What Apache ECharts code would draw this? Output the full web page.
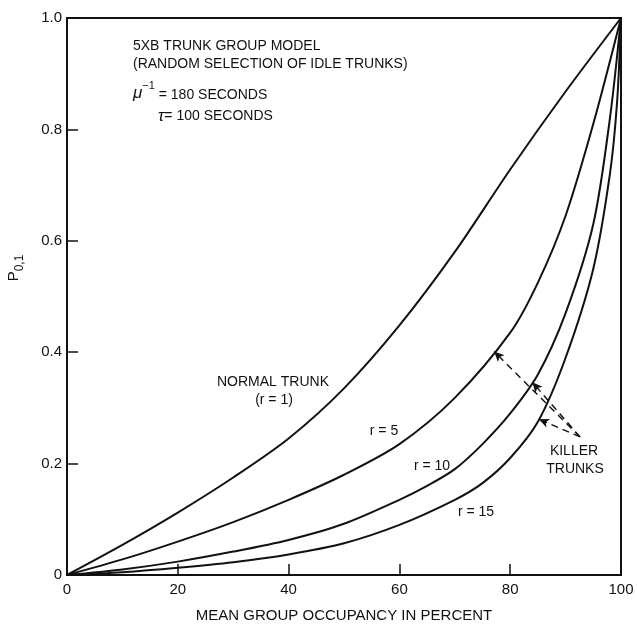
<!DOCTYPE html>
<html>
<head>
<meta charset="utf-8">
<script src="https://cdn.jsdelivr.net/npm/echarts@6/dist/echarts.min.js"></script>
<style>html,body{margin:0;padding:0;background:#fff}#c{width:637px;height:628px}</style>
</head>
<body>
<div id="c"></div>
<script>
// ---- data ----
const xTicks = [0, 20, 40, 60, 80, 100];
const yTickLabels = ['0', '0.2', '0.4', '0.6', '0.8', '1.0'];

const xNormal = [0, 10, 20, 30, 40, 50, 60, 70, 80, 90, 100];
const yNormal = [0, 0.054, 0.112, 0.175, 0.245, 0.335, 0.448, 0.58, 0.728, 0.868, 1];

const xR5 = [0, 10, 20, 30, 40, 50, 60, 70, 80, 85, 90, 95, 100];
const yR5 = [0, 0.028, 0.06, 0.095, 0.135, 0.18, 0.235, 0.318, 0.435, 0.525, 0.645, 0.81, 1];

const xR10 = [0, 10, 20, 30, 40, 50, 60, 65, 70, 75, 80, 85, 90, 95, 98, 100];
const yR10 = [0, 0.01, 0.024, 0.042, 0.063, 0.092, 0.135, 0.16, 0.19, 0.235, 0.29, 0.36, 0.47, 0.63, 0.82, 1];

const xR15 = [0, 10, 20, 30, 40, 50, 60, 70, 75, 80, 85, 90, 95, 98, 99.3, 100];
const yR15 = [0, 0.005, 0.013, 0.023, 0.037, 0.057, 0.09, 0.135, 0.165, 0.21, 0.275, 0.39, 0.55, 0.72, 0.85, 1];

// killer-trunk arrows: common start point and the x positions of the tips on r=5, r=10, r=15
const arrowStart = [92.6, 0.248];
const arrowTipX = [77.1, 84.0, 85.2];

// ---- chart ----
const FONT = "'Liberation Sans', Arial, Helvetica, sans-serif";
const INK = '#111';
const pairs = (xs, ys) => xs.map((x, i) => [x, ys[i]]);
const interp = (xs, ys, x) => {
  for (let i = 1; i < xs.length; i++) {
    if (x <= xs[i]) { const t = (x - xs[i - 1]) / (xs[i] - xs[i - 1]); return ys[i - 1] + t * (ys[i] - ys[i - 1]); }
  }
  return ys[ys.length - 1];
};
const tipCurves = [[xR5, yR5], [xR10, yR10], [xR15, yR15]];
const arrowTips = arrowTipX.map((x, i) => [x, interp(tipCurves[i][0], tipCurves[i][1], x)]);

const curve = (name, xs, ys, extra) => Object.assign({
  name, type: 'line', data: pairs(xs, ys), symbol: 'none',
  smooth: 0.3, silent: true,
  lineStyle: { color: INK, width: 2 }
}, extra || {});

const chart = echarts.init(document.getElementById('c'), null, { renderer: 'canvas' });

chart.setOption({
  animation: false,
  backgroundColor: '#fff',
  grid: { left: 67, right: 16, top: 18, bottom: 49, show: true, borderColor: INK, borderWidth: 2, backgroundColor: 'transparent' },
  xAxis: {
    type: 'value', min: 0, max: 100, interval: 20,
    axisLine: { show: true, lineStyle: { color: INK, width: 2 } },
    axisTick: { show: true, inside: true, length: 11, lineStyle: { color: INK, width: 1.5 } },
    splitLine: { show: false },
    axisLabel: { color: INK, fontSize: 15, fontFamily: FONT, margin: 7,
      formatter: v => String(xTicks[xTicks.indexOf(v)]) },
    name: 'MEAN GROUP OCCUPANCY IN PERCENT', nameLocation: 'middle', nameGap: 33,
    nameTextStyle: { color: INK, fontSize: 15, fontFamily: FONT }
  },
  yAxis: {
    type: 'value', min: 0, max: 1, interval: 0.2,
    axisLine: { show: true, lineStyle: { color: INK, width: 2 } },
    axisTick: { show: true, inside: true, length: 11, lineStyle: { color: INK, width: 1.5 } },
    splitLine: { show: false },
    axisLabel: { color: INK, fontSize: 15, fontFamily: FONT, margin: 5,
      formatter: v => yTickLabels[Math.round(v * 5)] }
  },
  series: [
    curve('Normal trunk (r = 1)', xNormal, yNormal),
    curve('r = 5', xR5, yR5),
    curve('r = 10', xR10, yR10),
    curve('r = 15', xR15, yR15, {
      markLine: {
        silent: true, symbol: ['none', 'arrow'], symbolSize: [7, 10],
        label: { show: false },
        lineStyle: { color: INK, width: 1.4, type: [7, 5] },
        data: arrowTips.map(t => [{ coord: arrowStart }, { coord: t }])
      }
    })
  ],
  graphic: [
    { type: 'text', left: 133, top: 39, style: { text: '5XB TRUNK GROUP MODEL', font: '14px ' + FONT, fill: INK } },
    { type: 'text', left: 133, top: 57, style: { text: '(RANDOM SELECTION OF IDLE TRUNKS)', font: '14px ' + FONT, fill: INK } },
    { type: 'text', left: 133, top: 80, style: {
        text: '{m|μ}{s|−1}{t| = 180 SECONDS}', fill: INK,
        rich: {
          m: { fontSize: 17, fontStyle: 'italic', fontFamily: FONT, fill: INK, verticalAlign: 'bottom', lineHeight: 22 },
          s: { fontSize: 11, fontFamily: FONT, fill: INK, verticalAlign: 'top', lineHeight: 22 },
          t: { fontSize: 14, fontFamily: FONT, fill: INK, verticalAlign: 'bottom', lineHeight: 22 }
        } } },
    { type: 'text', left: 158, top: 108, style: {
        text: '{m|τ}{t|= 100 SECONDS}', fill: INK,
        rich: {
          m: { fontSize: 17, fontStyle: 'italic', fontFamily: FONT, fill: INK },
          t: { fontSize: 14, fontFamily: FONT, fill: INK }
        } } },
    { type: 'text', x: 273, y: 382, style: { text: 'NORMAL TRUNK', font: '14px ' + FONT, fill: INK, align: 'center', verticalAlign: 'middle' } },
    { type: 'text', x: 274, y: 400, style: { text: '(r = 1)', font: '14px ' + FONT, fill: INK, align: 'center', verticalAlign: 'middle' } },
    { type: 'text', x: 384, y: 431, style: { text: 'r = 5', font: '14px ' + FONT, fill: INK, align: 'center', verticalAlign: 'middle' } },
    { type: 'text', x: 432, y: 466, style: { text: 'r = 10', font: '14px ' + FONT, fill: INK, align: 'center', verticalAlign: 'middle' } },
    { type: 'text', x: 476, y: 512, style: { text: 'r = 15', font: '14px ' + FONT, fill: INK, align: 'center', verticalAlign: 'middle' } },
    { type: 'text', x: 574, y: 451, style: { text: 'KILLER', font: '14px ' + FONT, fill: INK, align: 'center', verticalAlign: 'middle' } },
    { type: 'text', x: 575, y: 469, style: { text: 'TRUNKS', font: '14px ' + FONT, fill: INK, align: 'center', verticalAlign: 'middle' } },
    { type: 'text', x: 16, y: 268, rotation: Math.PI / 2, style: {
        text: '{p|P}{s|0,1}', align: 'center', verticalAlign: 'middle', fill: INK,
        rich: {
          p: { fontSize: 15, fontFamily: FONT, fill: INK, verticalAlign: 'top', lineHeight: 20 },
          s: { fontSize: 12, fontFamily: FONT, fill: INK, verticalAlign: 'bottom', lineHeight: 20 }
        } } }
  ]
});
</script>
</body>
</html>
